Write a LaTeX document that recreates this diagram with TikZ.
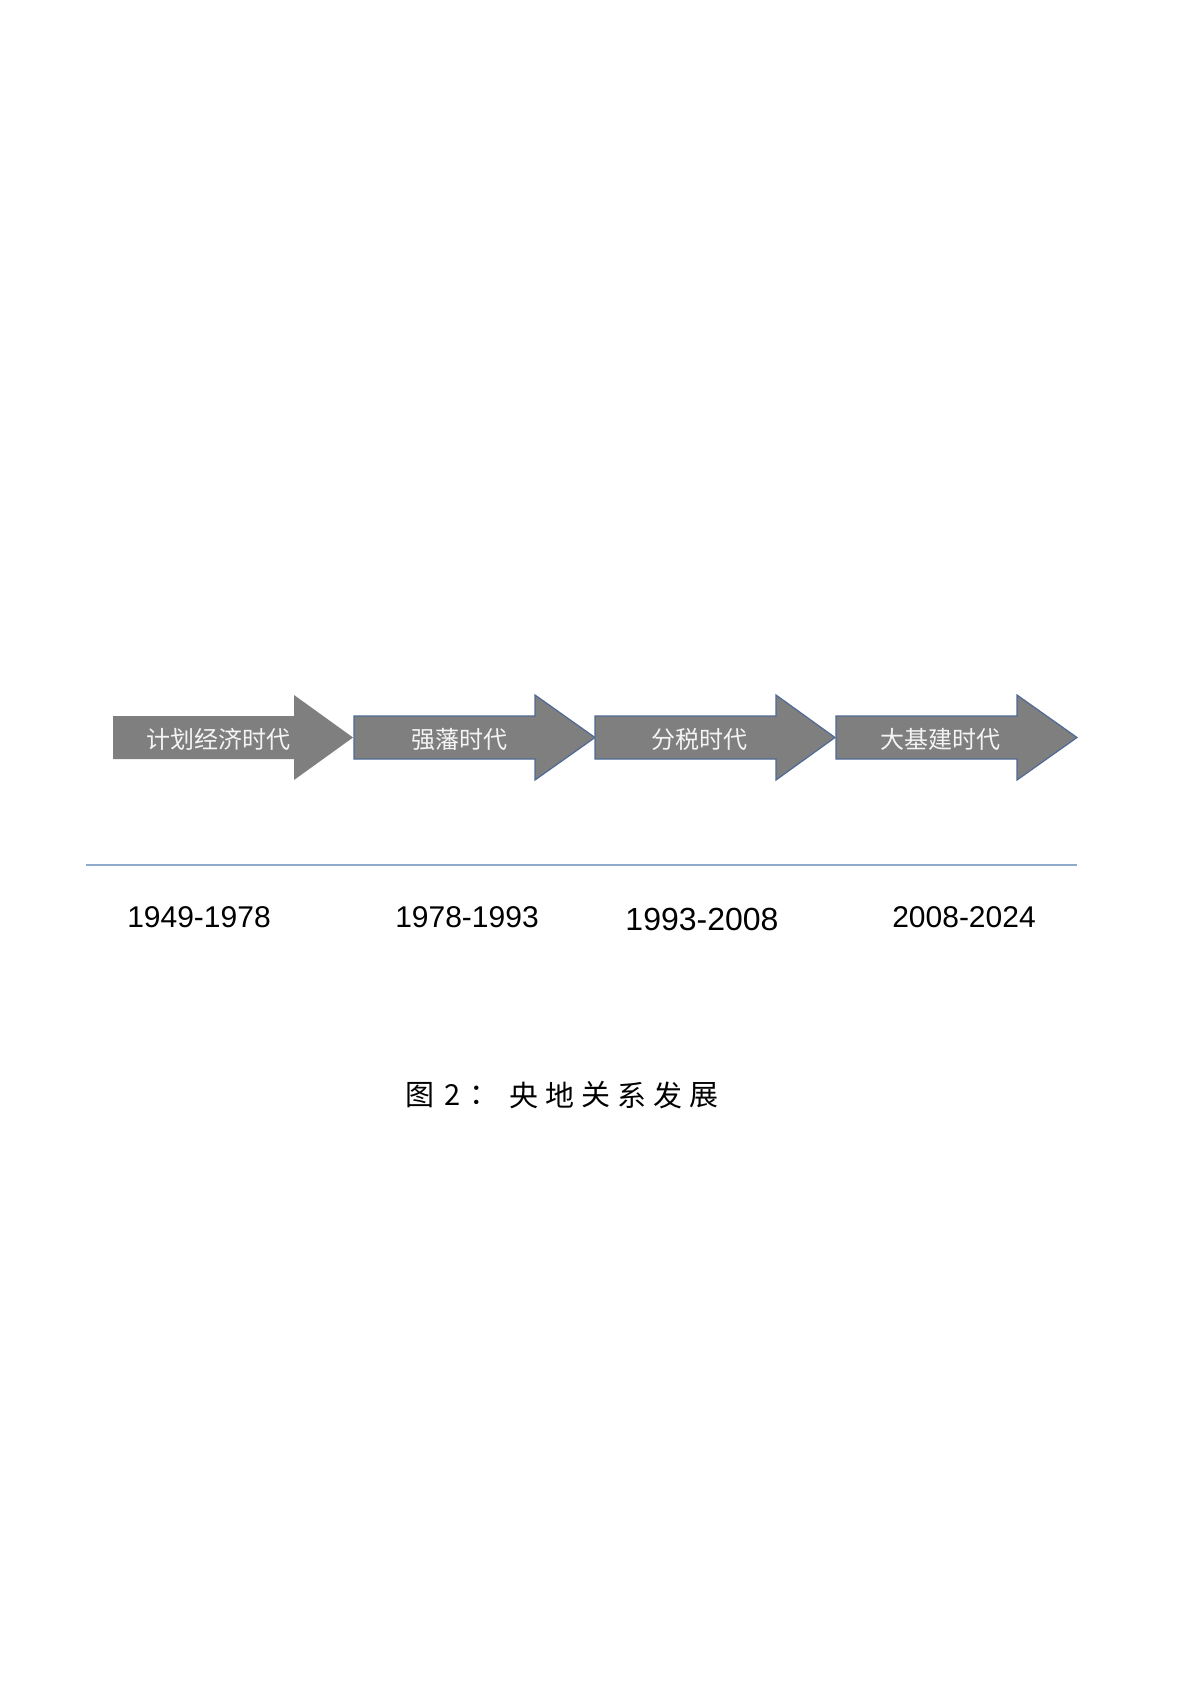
\documentclass[tikz,border=0pt]{standalone}
\usepackage{fontspec}
\newfontfamily\cjk{Noto Sans CJK SC}
\setmainfont{Liberation Sans}
\definecolor{arrowgray}{HTML}{7F7F7F}
\definecolor{arrowedge}{HTML}{4F6A96}
\definecolor{linecol}{HTML}{8FAACB}
\definecolor{labelwhite}{HTML}{F4F4F4}
\begin{document}
\begin{tikzpicture}[x=0.5pt,y=-0.5pt,
  arrowshape/.style={fill=arrowgray},
  arrowedged/.style={fill=arrowgray,draw=arrowedge,line width=0.6pt},
  arrowtext/.style={text=labelwhite,font=\cjk\fontsize{12pt}{14pt}\selectfont,inner sep=0pt},
  yeartext/.style={font=\fontsize{15pt}{18pt}\selectfont,inner sep=0pt},
  captext/.style={font=\cjk\fontsize{14.5pt}{16pt}\selectfont,inner sep=0pt}]
\useasboundingbox (0,0) rectangle (1190,1684);
\fill[white] (0,0) rectangle (1190,1684);
% arrows
\fill[arrowshape] (113,716) -- (294,716) -- (294,695) -- (353,737.5) -- (294,780) -- (294,759) -- (113,759) -- cycle;
\filldraw[arrowedged] (354,716) -- (535,716) -- (535,695) -- (595,737.5) -- (535,780) -- (535,759) -- (354,759) -- cycle;
\filldraw[arrowedged] (595,716) -- (776,716) -- (776,695) -- (835,737.5) -- (776,780) -- (776,759) -- (595,759) -- cycle;
\filldraw[arrowedged] (836,716) -- (1017,716) -- (1017,695) -- (1077,737.5) -- (1017,780) -- (1017,759) -- (836,759) -- cycle;
\node[arrowtext] (t1) at (218,739) {计划经济时代};
\node[arrowtext] (t2) at (459,739) {强藩时代};
\node[arrowtext] (t3) at (699,739) {分税时代};
\node[arrowtext] (t4) at (940,739) {大基建时代};
% timeline
\coordinate (la) at (86,865);
\coordinate (lb) at (1077,865);
\draw[linecol,line width=1pt] (la) -- (lb);
\node[yeartext] (y1) at (199,917) {1949-1978};
\node[yeartext] (y2) at (467,917) {1978-1993};
\node[yeartext,font=\fontsize{16pt}{18pt}\selectfont] (y3) at (702,919) {1993-2008};
\node[yeartext] (y4) at (964,917) {2008-2024};
% caption
\node[captext] (c1) at (419.5,1095) {图};
\node[captext] (c2) at (452.5,1095) {2};
\node[captext] (c3) at (484,1095) {：};
\node[captext] (c4) at (523.5,1095) {央};
\node[captext] (c5) at (559.5,1095) {地};
\node[captext] (c6) at (595.5,1095) {关};
\node[captext] (c7) at (631.5,1095) {系};
\node[captext] (c8) at (667.5,1095) {发};
\node[captext] (c9) at (703.5,1095) {展};
\end{tikzpicture}
\end{document}
